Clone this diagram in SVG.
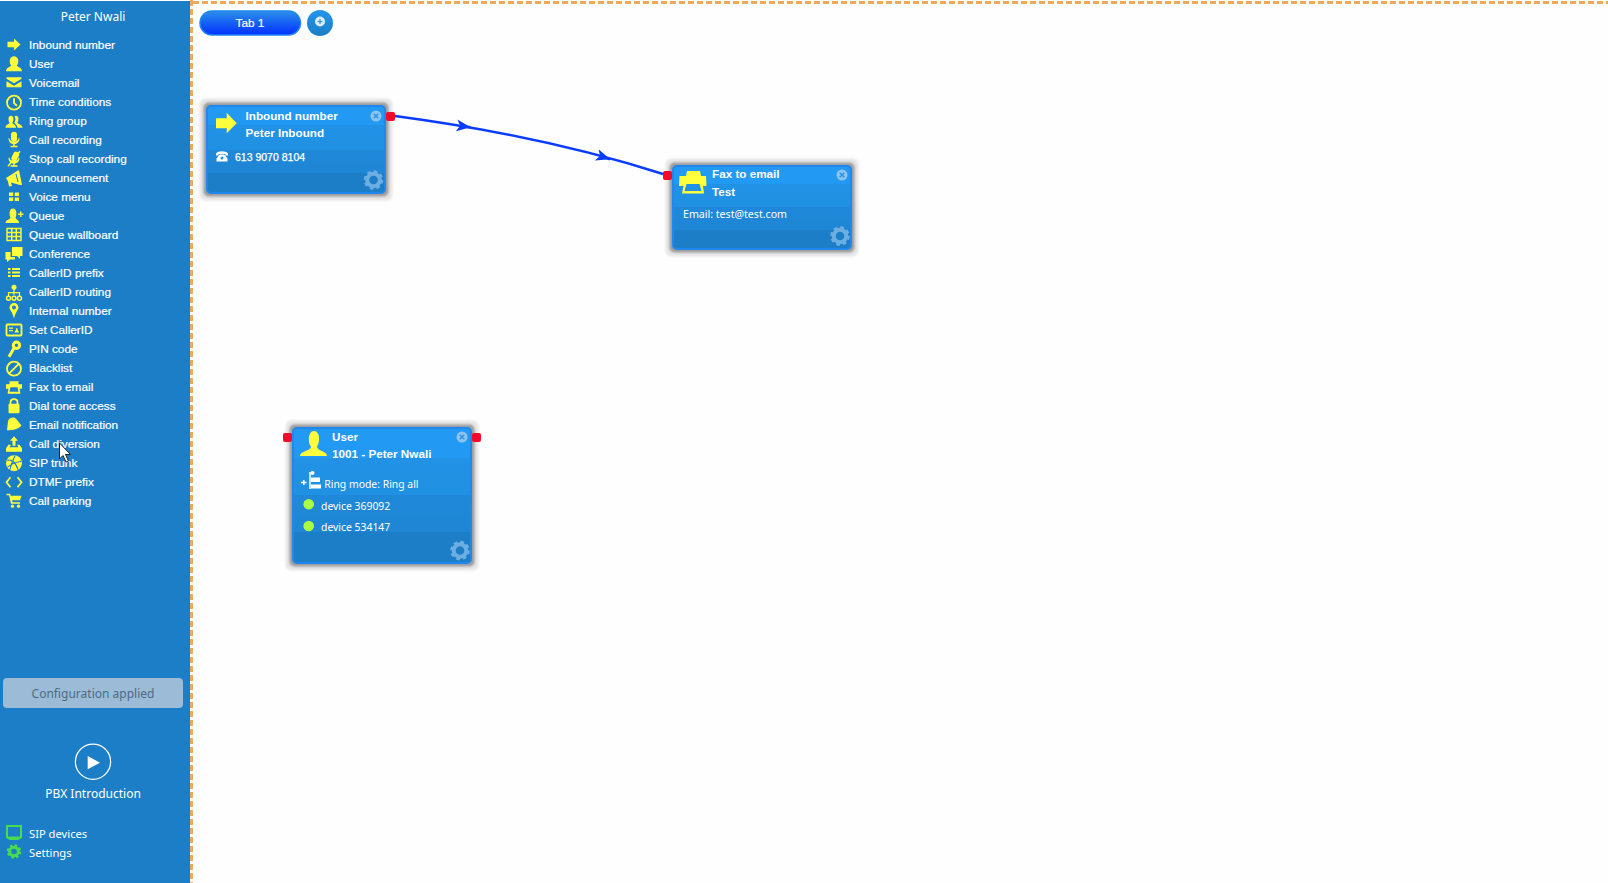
<svg xmlns="http://www.w3.org/2000/svg" xmlns:xlink="http://www.w3.org/1999/xlink" width="1608" height="883" viewBox="0 0 1608 883">
<style>
.m{font:11.8px "Liberation Sans",Arial,sans-serif;fill:#fff;stroke:#fff;stroke-width:.2}
.u{font:12px "Noto Sans",sans-serif;fill:#fff}
.s{font:11.2px "Noto Sans",sans-serif;fill:#fff}
.t{font:bold 11.7px "Liberation Sans",Arial,sans-serif;fill:#fff}
.d{font:10.4px "Noto Sans",sans-serif;fill:#fff}
.y{fill:#ffff3c}
.yl{fill:none;stroke:#ffff3c;stroke-width:1.8}
.g{fill:#46dc50}
.port{fill:#f50a2a}
.conn{fill:none;stroke:#0a3cff;stroke-width:2.4}
.body{fill:url(#bands);stroke:#1e88ee;stroke-width:2}
.halo{fill:#e6e6e6;filter:url(#blur)}
.halo2{fill:#9c9c9c;filter:url(#blur2)}
</style>
<defs>
<linearGradient id="bands" x1="0" y1="0" x2="0" y2="1">
<stop offset="0" stop-color="#2299f2"/><stop offset=".22" stop-color="#2299f2"/>
<stop offset=".22" stop-color="#2292e6"/><stop offset=".5" stop-color="#2090e2"/>
<stop offset=".5" stop-color="#1f88d8"/><stop offset=".77" stop-color="#1e86d4"/>
<stop offset=".77" stop-color="#1c7ec6"/><stop offset="1" stop-color="#1c7ec6"/>
</linearGradient>
<linearGradient id="tab" x1="0" y1="0" x2="0" y2="1"><stop offset="0" stop-color="#2a90ea"/><stop offset="1" stop-color="#0230ff"/></linearGradient>
<linearGradient id="plus" x1="0" y1="0" x2="0" y2="1"><stop offset="0" stop-color="#2295ee"/><stop offset="1" stop-color="#1c7ec6"/></linearGradient>
<filter id="blur" x="-20%" y="-20%" width="140%" height="140%"><feGaussianBlur stdDeviation=".8"/></filter>
<filter id="blur2" x="-20%" y="-20%" width="140%" height="140%"><feGaussianBlur stdDeviation="1.200"/></filter>
<marker id="arr" markerUnits="userSpaceOnUse" markerWidth="18" markerHeight="14" refX="14" refY="6" orient="auto"><path d="M0 0L14 6 0 12 3.500 6Z" fill="#0a3cff"/></marker>
<g id="gear"><circle r="6.300" fill="none" stroke="#6daee2" stroke-width="4"/><circle r="8.300" fill="none" stroke="#6daee2" stroke-width="3" stroke-dasharray="3.500 3.020"/></g>
<g id="close"><circle r="5.500" fill="#8cc4ee"/><path d="M-2.300-2.300L2.300 2.300M2.300-2.300L-2.300 2.300" stroke="#2a90e6" stroke-width="1.300"/></g>
</defs>
<rect width="1608" height="883" fill="#fefefe"/>
<g id="sidebar">
<rect y="1" width="190" height="882" fill="#1c7ec6"/>
<path d="M191.500 0V883M193 2.500H1608" fill="none" stroke="#efa95c" stroke-width="3" stroke-dasharray="6 3"/>
<text class="u" x="93" y="21" text-anchor="middle">Peter Nwali</text>

<g id="i-inbound" transform="translate(14 44.500)"><path class="y" d="M-6.500-2.800H0V-6L6.500 0 0 6V2.800H-6.500Z"/></g><text class="m" x="29" y="49.300">Inbound number</text>
<g id="i-user" transform="translate(14 63.700)"><path class="y" d="M-8 7.500C-8 3.500-3 3.500-3 1.500-4.500-.5-4.500-3-4-4.500-3.500-6.500-1.500-7.500 0-7.500S3.500-6.500 4-4.500C4.500-3 4.500-.5 3 1.500 3 3.500 8 3.500 8 7.500Z"/></g><text class="m" x="29" y="68.300">User</text>
<g id="i-voicemail" transform="translate(14 82.700)"><path class="y" d="M-7.500-5.500H7.500V-4L0 .5-7.500-4ZM-7.500-1.500L0 3 7.500-1.500V4.500H-7.500Z"/></g><text class="m" x="29" y="87.300">Voicemail</text>
<g id="i-time" transform="translate(14 102.700)"><circle class="yl" r="7"/><path class="yl" d="M0-4.500V.5L3 3"/></g><text class="m" x="29" y="106.300">Time conditions</text>
<g id="i-ring" transform="translate(14 121.200)"><path class="y" d="M-8.500 6.500C-8.500 3-4.500 3-4.500 1.500-6-1-6-5.500-3-5.500S0-1-1.500 1.500C-1.500 3 2 3 2 6.500ZM2 -5.500C5-5.500 5-1 3.500 1.500 3.500 3 8.500 3 8.500 6.500H3.500C3.500 3.500 0 2 .5 1 2 -1 1.500-3.500 .5-5Z"/></g><text class="m" x="29" y="125.300">Ring group</text>
<g id="i-record" transform="translate(14 139.700)"><rect class="y" x="-3" y="-8" width="6" height="10" rx="3"/><path class="y" d="M-5.500-1.500H-4.500C-4.500 3 4.500 3 4.500-1.500H5.500C5.500 2.500 3 4 .7 4.300V6H3.500V7.500H-3.500V6H-.7V4.300C-3 4-5.500 2.500-5.500-1.500Z"/></g><text class="m" x="29" y="144.300">Call recording</text>
<g id="i-stop" transform="translate(14 159.200)"><rect class="y" x="-3" y="-8" width="6" height="10" rx="3" transform="rotate(25)"/><path class="y" d="M-5.500-1.500H-4.500C-4.500 3 4.500 3 4.500-1.500H5.500C5.500 2.500 3 4 .7 4.300V6H3.500V7.500H-3.500V6H-.7V4.300C-3 4-5.500 2.500-5.500-1.500Z"/><path d="M-6 7L6-8" stroke="#ffff3c" stroke-width="1.400"/></g><text class="m" x="29" y="163.300">Stop call recording</text>
<g id="i-announce" transform="translate(14 178)"><path class="y" d="M-8 0L3-7 5-8 8 7 6 7-3 4.500-2 8-5 8.500-6 3.500Z"/><path d="M2-4L4 4" stroke="#1c7ec6" stroke-width="1"/></g><text class="m" x="29" y="182.300">Announcement</text>
<g id="i-menu" transform="translate(14 197)"><path class="y" d="M-5-4.500H-.8V-1H-5ZM.8-4.500H5V-1H.8ZM-5 .5H-.8V4H-5ZM.8 .5H5V4H.8Z"/></g><text class="m" x="29" y="201.300">Voice menu</text>
<g id="i-queue" transform="translate(14 216)"><path class="y" d="M-8.500 7C-8.500 3.500-3.500 3.500-3.500 1.500-5-1-5-7.500-1-7.500S3-1 1.500 1.500C1.500 3.500 5 3.500 5 7ZM4-2.500H6V-4.500H7.500V-2.500H9.500V-1H7.500V1H6V-1H4Z"/></g><text class="m" x="29" y="220.300">Queue</text>
<g id="i-wall" transform="translate(14 234.500)"><path class="yl" style="stroke-width:1.400" d="M-7-6H7V6H-7ZM-7-2H7M-7 2H7M-2.300-6V6M2.300-6V6"/></g><text class="m" x="29" y="239.300">Queue wallboard</text>
<g id="i-conf" transform="translate(14 253)"><path class="y" d="M-2-6H8.500V3H6V6L3 3H-2ZM-8.500-1H-3.500V4H1V6.500H-4L-7 9V6.500H-8.500Z"/></g><text class="m" x="29" y="258.300">Conference</text>
<g id="i-prefix" transform="translate(14 272.500)"><path class="y" d="M-6-4.500H-3.500V-2.500H-6ZM-2-4.500H6V-2.500H-2ZM-6-1H-3.500V1H-6ZM-2-1H6V1H-2ZM-6 2.500H-3.500V4.500H-6ZM-2 2.500H6V4.500H-2Z"/></g><text class="m" x="29" y="277.300">CallerID prefix</text>
<g id="i-routing" transform="translate(14 292.700)"><path class="yl" style="stroke-width:1.200" d="M0-4V2M-5.500 3.500V0H5.500V3.500"/><circle class="y" cy="-5.500" r="2.500"/><circle class="yl" style="stroke-width:1.400" cx="-5.500" cy="5.500" r="2"/><circle class="yl" style="stroke-width:1.400" cy="5.500" r="2"/><circle class="yl" style="stroke-width:1.400" cx="5.500" cy="5.500" r="2"/></g><text class="m" x="29" y="296.300">CallerID routing</text>
<g id="i-pin" transform="translate(14 311)"><path class="y" fill-rule="evenodd" d="M0 7.500C-2-.5-4.500-1-4.500-3.500-4.500-6-2.500-8 0-8S4.500-6 4.500-3.500C4.500-1 2-.5 0 7.500ZM0-5.500A2 2 0 1 0 0-1.500 2 2 0 1 0 0-5.500Z"/></g><text class="m" x="29" y="315.300">Internal number</text>
<g id="i-setcid" transform="translate(14 330)"><rect class="yl" x="-7.500" y="-5.500" width="15" height="11" rx="1"/><path class="y" d="M-5-2.500H-1V-1.200H-5ZM-5 0H-1V1.300H-5ZM.5 2.500C.5 1 2 1 2 0 1 -2.500 4.500-2.500 3.500 0 3.500 1 5 1 5 2.500Z"/></g><text class="m" x="29" y="334.300">Set CallerID</text>
<g id="i-pin-code" transform="translate(14 349.200)"><circle class="yl" style="stroke-width:3" cx="2.500" cy="-4" r="3.200"/><path class="yl" style="stroke-width:3" d="M.5-2L-5 7.500"/></g><text class="m" x="29" y="353.300">PIN code</text>
<g id="i-black" transform="translate(14 368.700)"><circle class="yl" r="7"/><path class="yl" d="M-5 5L5-5"/></g><text class="m" x="29" y="372.300">Blacklist</text>
<g id="i-fax" transform="translate(14 387.700)"><path class="y" fill-rule="evenodd" d="M-4.500-6.500H4.500V-3.500H8V1H5.500L6.500 6H-6.500L-5.500 1H-8V-3.500H-4.500ZM-3.500-.5L-4.500 4H4.500L3.500-.5Z"/></g><text class="m" x="29" y="391.300">Fax to email</text>
<g id="i-dial" transform="translate(14 406.200)"><path class="yl" d="M-3.500-2V-4C-3.500-8 3.500-8 3.500-4V-2"/><rect class="y" x="-5.500" y="-2.500" width="11" height="9.500" rx="1"/></g><text class="m" x="29" y="410.300">Dial tone access</text>
<g id="i-bell" transform="translate(14 425.200)"><path class="y" d="M-6-4C-5-8 0-8.500 2-6.500 4-4.500 6-1.500 7.500 .5 4 4-2 5.500-7 5-6.500 2-6.500-1-6-4Z"/></g><text class="m" x="29" y="429.300">Email notification</text>
<g id="i-div" transform="translate(14 444.200)"><path class="y" d="M0-8L4-3.500H1.500V1.500H-1.500V-3.500H-4ZM-8 7.500V4L-5.500 .5H-3L-4.500 3H4.500L3 .5H5.500L8 4V7.500Z"/></g><text class="m" x="29" y="448.300">Call diversion</text>
<g id="i-sip" transform="translate(14 463.200)"><circle class="y" r="8"/><path d="M-7-3C-3-4 2-1 4 6.500M1-7.500C-1-3-3 1-4 6.500M-6.500 4C-2 0 3-1 7.500-2" fill="none" stroke="#1c7ec6" stroke-width="1.100"/></g><text class="m" x="29" y="467.300">SIP trunk</text>
<g id="i-dtmf" transform="translate(14 482.200)"><path class="yl" d="M-3.500-5L-7.500 0-3.500 5M3.500-5L7.500 0 3.500 5"/></g><text class="m" x="29" y="486.300">DTMF prefix</text>
<g id="i-park" transform="translate(14 500.700)"><path class="y" d="M-7.500-7H-4L-3.300-5H7.500L6-.5H-2L-1.500 1.500H6V3H-3L-5-5.500H-7.500Z"/><circle class="y" cx="-1.500" cy="5.500" r="1.600"/><circle class="y" cx="4.500" cy="5.500" r="1.600"/></g><text class="m" x="29" y="505.300">Call parking</text>

<path id="cursor" d="M59.500 443V459L63 455.500 66 462 68.500 461 65.500 454.500H70.500Z" fill="#fff" stroke="#222" stroke-width="1"/>

<g id="config"><rect x="3" y="678" width="180" height="30" rx="4" fill="#9bbbd6"/><text x="93" y="697.500" text-anchor="middle" font-family="Noto Sans, sans-serif" font-size="12" fill="#4d6b85">Configuration applied</text></g>
<g id="intro"><circle cx="93" cy="761.700" r="17.600" fill="none" stroke="#fff" stroke-width="1.200"/><path d="M87.700 756L100 762.700 87.700 769.300Z" fill="#fff"/><text x="93" y="798" text-anchor="middle" font-family="Noto Sans, sans-serif" font-size="12" fill="#fff">PBX Introduction</text></g>
<g id="i-sipdev" transform="translate(14 832.500)"><path class="g" fill-rule="evenodd" d="M-8-7.500H8V5.500L4 7.500H-4L-8 5.500ZM-6-5.500V4H6V-5.500Z"/></g><text class="s" x="29" y="837.700">SIP devices</text>
<g id="i-settings" transform="translate(14 851.500)"><circle r="4.300" fill="none" stroke="#46dc50" stroke-width="3"/><circle r="6" fill="none" stroke="#46dc50" stroke-width="2.500" stroke-dasharray="2.500 2.200"/></g><text class="s" x="29" y="856.700">Settings</text>
</g>

<g id="tabs">
<rect x="200" y="11" width="100.500" height="24" rx="12" fill="url(#tab)" stroke="#1f88ee" stroke-width="1.500"/>
<text class="m" x="250" y="27.300" text-anchor="middle">Tab 1</text>
<circle cx="320" cy="23" r="13" fill="url(#plus)"/><circle cx="320" cy="21.500" r="5" fill="#dcecf8"/><path d="M317.500 21.500H322.500M320 19V24" stroke="#2a90e6" stroke-width="1.200"/>
</g>

<g id="connectors">
<path class="conn" d="M395 116C485 128 575 146 663 174"/>
<path class="conn" marker-end="url(#arr)" d="M464 126.400L470.500 127.300"/>
<path class="conn" marker-end="url(#arr)" d="M604 157.300L610 159.300"/>
</g>

<g id="node-inbound">
<rect class="halo" x="199.500" y="98.500" width="193" height="102" rx="6"/><rect class="halo2" x="203.500" y="102.500" width="185" height="94" rx="5"/>
<rect class="body" x="207" y="106" width="178" height="87" rx="4"/>
<path d="M216 118.300H226.700V112.700L236.700 123.300 226.700 133.300V128.300H216Z" fill="#ffff3c"/>
<text class="t" x="245.500" y="119.600">Inbound number</text><text class="t" x="245.500" y="136.600">Peter Inbound</text>
<use xlink:href="#close" href="#close" x="376" y="116"/>
<path d="M216.500 161.500V158.500L219.500 154.500H224.500L227.500 158.500V161.500ZM216 153.500C218 150.500 226 150.500 228 153.500V155.500H225.500V154H218.500V155.500H216Z" fill="#fff"/><circle cx="222" cy="158" r="1.500" fill="#2090e2"/>
<text x="235" y="161" font-family="Liberation Sans, sans-serif" font-size="10.500" fill="#fff" stroke="#fff" stroke-width=".25">613 9070 8104</text>
<use xlink:href="#gear" href="#gear" x="373.500" y="180"/>
<rect class="port" x="386" y="112" width="9" height="9" rx="2"/>
</g>

<g id="node-fax">
<rect class="halo" x="665.500" y="158.500" width="193" height="98" rx="6"/><rect class="halo2" x="669.500" y="162.500" width="185" height="90" rx="5"/>
<rect class="body" x="673" y="166" width="178" height="83" rx="4"/>
<path fill="#ffff3c" fill-rule="evenodd" d="M687 171H700L701 176H706L706.500 186H703L704 193.500H682L683.500 186H679L679.500 176H686ZM686.500 184L684.500 191H701.500L699.500 184Z"/>
<text class="t" x="712" y="178.200">Fax to email</text><text class="t" x="712" y="195.700">Test</text>
<use xlink:href="#close" href="#close" x="842" y="175"/>
<text class="d" x="683" y="218" style="font-size:10.600px">Email: test@test.com</text>
<use xlink:href="#gear" href="#gear" x="840" y="236"/>
<rect class="port" x="663" y="171" width="9" height="9" rx="2"/>
</g>

<g id="node-user">
<rect class="halo" x="285.500" y="420.500" width="193" height="150" rx="6"/><rect class="halo2" x="289.500" y="424.500" width="185" height="142" rx="5"/>
<rect class="body" x="293" y="428" width="178" height="135" rx="4"/>
<path fill="#ffff3c" d="M300 456C300 451 311 451 311 446.500 308 443 307.500 431 314 431S320 443 317 446.500C317 451 327 451 327 456Z"/>
<text class="t" x="332" y="440.700">User</text><text class="t" x="332" y="457.700">1001 - Peter Nwali</text>
<use xlink:href="#close" href="#close" x="462" y="437"/>
<path d="M301 482.500H306.500M303.800 480V485M310 472V489" fill="none" stroke="#fff" stroke-width="1.500"/><circle cx="312.500" cy="473" r="2" fill="#fff"/><path d="M311 477.500H320V482H311ZM311 484.500H321V488.500H311Z" fill="#fff"/>
<text class="d" x="324.300" y="488">Ring mode: Ring all</text>
<circle cx="308.700" cy="504.300" r="5.300" fill="#aaff44"/><text class="d" x="321" y="509.500">device 369092</text>
<circle cx="308.700" cy="526" r="5.300" fill="#aaff44"/><text class="d" x="321" y="530.800">device 534147</text>
<use xlink:href="#gear" href="#gear" x="460" y="550.500"/>
<rect class="port" x="283" y="433" width="9" height="9" rx="2"/><rect class="port" x="472" y="433" width="9" height="9" rx="2"/>
</g>
</svg>
